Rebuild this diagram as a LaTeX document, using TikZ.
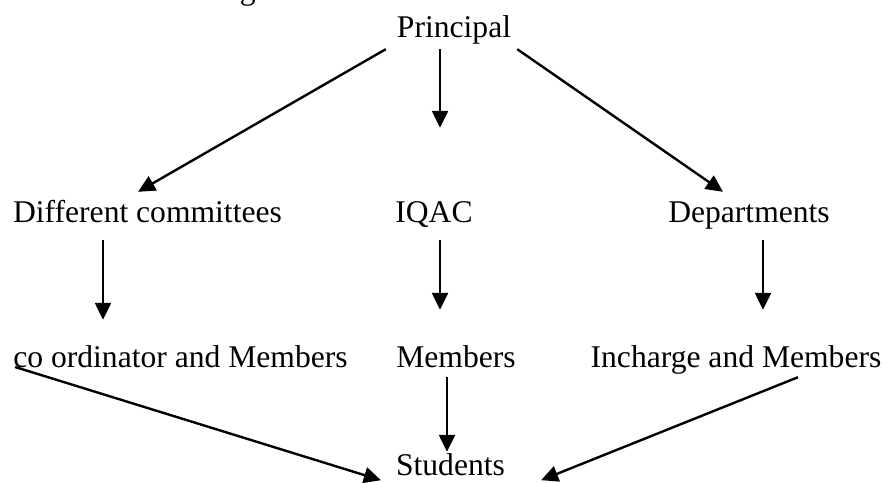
\documentclass[tikz,border=0pt]{standalone}
\usepackage{fontspec}
\setmainfont{Liberation Serif}
\usetikzlibrary{arrows.meta}

\begin{document}
\begin{tikzpicture}[x=1pt,y=-1pt,
  lbl/.style={anchor=base,inner sep=0pt,text height=21pt,text depth=7pt,
    font=\fontsize{31.6}{38}\selectfont},
  arr/.style={-{Triangle[length=17pt,width=16pt]},line width=2.4pt}]
  \useasboundingbox (0,0) rectangle (885,482);
  % heading, cut by the page edge
  \node[lbl,anchor=base west] (title) at (207,-0.5)
    {Organizational structure of the Institution is as follows};
  \node[lbl] (prin)  at (454,37)    {Principal};
  \node[lbl] (dc)    at (147.5,222) {Different committees};
  \node[lbl] (iqac)  at (434,222)   {IQAC};
  \node[lbl] (dept)  at (749,222)   {Departments};
  \node[lbl] (coord) at (180.5,367) {co ordinator and Members};
  \node[lbl] (memb)  at (456,367)   {Members};
  \node[lbl] (inch)  at (736,367)   {Incharge and Members};
  \node[lbl] (stud)  at (450.5,475) {Students};
  \path[arr]
  ([shift={(-11,5)}]prin.south west) edge ([shift={(-9.5,-9)}]dc.north)
  ([shift={(-14,5)}]prin.south) edge ([shift={(6,-73)}]iqac.north)
  ([shift={(6,5)}]prin.south east) edge ([shift={(-26,-9)}]dept.north)
  ([shift={(-44.5,11)}]dc.south) edge ([shift={(-77.5,-26)}]coord.north)
  ([shift={(6,11)}]iqac.south) edge ([shift={(-16,-36)}]memb.north)
  ([shift={(14,11)}]dept.south) edge ([shift={(27,-36)}]inch.north)
  ([shift={(2,0)}]coord.base west) edge ([shift={(-15,-2)}]stud.south west)
  ([shift={(-9,3)}]memb.south) edge ([shift={(-3.5,-2)}]stud.north)
  ([shift={(62,3)}]inch.south) edge ([shift={(36,-2)}]stud.south east);
\end{tikzpicture}
\end{document}
